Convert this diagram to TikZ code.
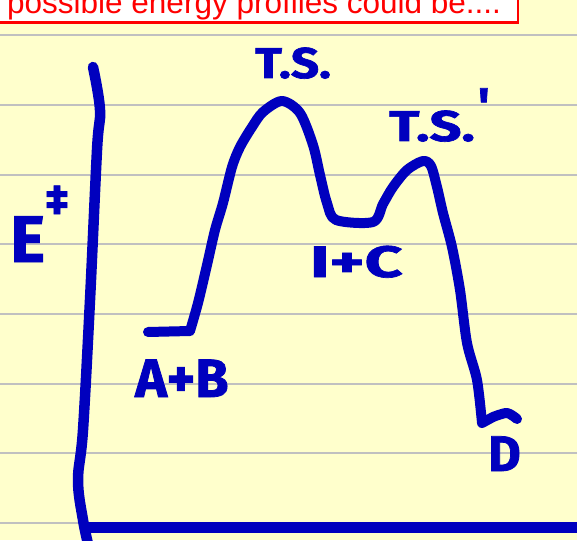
\documentclass[tikz,border=0pt]{standalone}
\usepackage{fontspec}
\newfontfamily\arialf{Liberation Sans}
\newfontfamily\handf{Fira Sans}[BoldFeatures={FakeBold=1.5}]
\definecolor{pen}{RGB}{0,0,190}
\definecolor{paper}{RGB}{255,255,204}
\definecolor{ruling}{RGB}{192,192,192}
\begin{document}
\begin{tikzpicture}[x=1pt,y=-1pt,
  penline/.style={draw=pen, line width=10pt, line cap=round, line join=round},
  lbl/.style={text=pen, inner sep=0pt, anchor=base west},
  hand/.style={font={\handf\bfseries\fontsize{#1}{#1}\selectfont}}]
\useasboundingbox (0,0) rectangle (577,540);
\clip (0,0) rectangle (577,540);
\fill[paper] (0,0) rectangle (577,540);
\foreach \yy in {35,105,175,244,314,384,453,523}
  \draw[ruling, line width=2pt] (0,\yy) -- (577,\yy);
% title box
\draw[red, line width=2.5pt, fill=white] (-5,-10) rectangle (518,22.5);
\node[anchor=base west, inner sep=0pt, text=red,
  font={\arialf\fontsize{31.5}{31.5}\selectfont}] (title) at (7,14)
  {possible energy profiles could be....};
% axes
\draw[penline, line width=10.5pt] plot[smooth, tension=.6] coordinates
  {(93,67) (100,110) (97,150) (90,300) (83,430) (78,480) (83,520) (89,548)};
\draw[penline, line width=11pt] (88,527) -- (600,527);
% energy profile
\draw[penline] (148,332) -- plot[smooth, tension=.5] coordinates {
  (190,331) (198,303) (207,265) (215,230) (223,203) (232,167) (240,147)
  (252,127) (263,112) (282,101) (300,113) (313,145) (320,175) (327,203)
  (336,220) (373,222) (383,204) (393,187) (407,170) (423,161) (431,166)
  (437,187) (443,213) (452,247) (460,290) (467,343) (477,380) (482,423)}
  -- plot[smooth, tension=.5] coordinates {(493,417) (507,413) (517,419)};
% labels
\node[lbl, hand=43] (ts1) at (255,78) {\scalebox{1.15}[1]{T.S.}};
\node[lbl, hand=43] (ts2) at (389,141)
  {\scalebox{1.3}[1]{T.S.}\hspace{3pt}\raisebox{18pt}{\fontsize{50}{50}\selectfont '}};
\node[lbl, hand=44] (ic) at (310,277) {\scalebox{1.5}[1]{I+C}};
\node[lbl, hand=54] (ab) at (135,397) {A+B};
\node[lbl, hand=50] (d) at (488,471) {D};
\node[lbl, hand=66] (e) at (10,262)
  {E\hspace{1pt}\raisebox{48pt}{\fontsize{42}{42}\selectfont ‡}};
\end{tikzpicture}
\end{document}
